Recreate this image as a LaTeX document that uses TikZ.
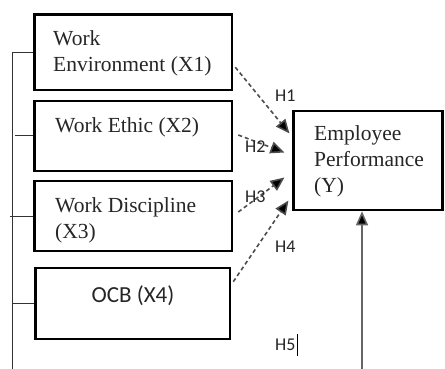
\documentclass[tikz,border=0pt]{standalone}
\usepackage{fontspec}
\setmainfont{Liberation Serif}
\newfontfamily\calib{Carlito}
\usetikzlibrary{arrows.meta,calc}
\tikzset{
  box/.style={draw=black, line width=2.6pt, inner sep=0pt, rectangle},
  serif/.style={inner sep=0pt, anchor=base west, align=left, font=\fontsize{21.5}{26}\selectfont, text=black!85},
  hlab/.style={inner sep=0pt, anchor=base west, font=\calib\fontsize{18}{20}\selectfont, text=black!85},
  spine/.style={draw=black!80, line width=1pt},
  hyp/.style={draw=black!70, line width=1.6pt, dash pattern=on 4pt off 3pt, -{Triangle[length=14pt,width=12pt,fill=black]}},
  solidarrow/.style={draw=black!60, line width=1.6pt, -{Triangle[length=14pt,width=12pt,fill=black]}}
}
\begin{document}
\begin{tikzpicture}[x=1pt,y=-1pt]
\useasboundingbox (0,0) rectangle (445,369);
% boxes
\node[box, minimum width=197.5pt, minimum height=75.5pt] (x1) at (133.25,52.25) {};
\node[box, minimum width=197.5pt, minimum height=70pt] (x2) at (133.25,136) {};
\node[box, minimum width=197.5pt, minimum height=70pt] (x3) at (133.25,216) {};
\node[box, minimum width=194.5pt, minimum height=71pt] (x4) at (132.75,303.5) {};
\node[box, minimum width=148.5pt, minimum height=99pt] (y) at (368,160.5) {};
% texts (base = last line)
\node[serif] (t1) at (53,72) {Work\\Environment (X1)};
\node[serif] (t2) at (55,132) {Work Ethic (X2)};
\node[serif] (t3) at (55,238) {Work Discipline\\(X3)};
\node[inner sep=0pt, anchor=base, font=\calib\fontsize{23}{26}\selectfont, text=black!85] (t4) at (133,302) {OCB (X4)};
\node[serif] (ty) at (314,193) {Employee\\Performance\\(Y)};
% bracket
\coordinate (spinetop) at ($(x1.west)+(-21,0)$);
\coordinate (spinebot) at (spinetop |- 0,369);
\draw[spine] (x1.west) -- (spinetop) -- (spinebot);
\draw[spine] (x2.west) -- ++(-18,0);
\draw[spine] (x3.west) -- ++(-23,0);
\draw[spine] (x4.west) -- ++(-22,0);
% hypotheses arrows
\draw[hyp] ($(x1.east)+(2,15)$) -- ($(y.west)+(-3,-27)$);
\draw[hyp] ($(x2.east)+(5,-1)$) -- ($(y.west)+(-8,-8)$);
\draw[hyp] ($(x3.east)+(5,-4)$) -- ($(y.west)+(-8,17)$);
\draw[hyp] ($(x4.north east)+(2,15)$) -- ($(y.west)+(-4,40)$);
% H5 arrow
\coordinate (h5start) at (362,369);
\draw[solidarrow] (h5start) -- (h5start |- y.south);
% labels
\node[hlab] (h1) at (275,102) {H1};
\node[hlab] (h2) at (245,152) {H2};
\node[hlab] (h3) at (245,202) {H3};
\node[hlab] (h4) at (275,252) {H4};
\node[hlab] (h5) at (275,350) {H5};
\draw[black, line width=1pt] ($(h5.east)+(2,-10)$) -- ($(h5.east)+(2,12)$);
\end{tikzpicture}
\end{document}
